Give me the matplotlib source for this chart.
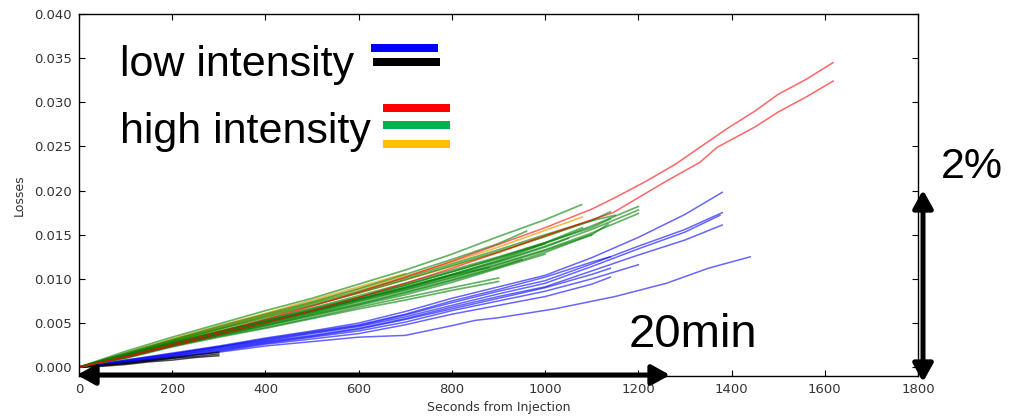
import matplotlib
matplotlib.use("Agg")
import matplotlib.pyplot as plt
from matplotlib.ticker import FormatStrFormatter
from matplotlib.patches import Rectangle

# ---------------- data ----------------
GRID = [0, 100, 200, 300, 400, 500, 600, 700, 800, 900, 1000, 1100, 1200, 1300]

# each entry: (values on GRID, optional extra end point (x, y))
blue_lines = [
    ([0, .0008, .0016, .0024, .0033, .0041, .0050, .0063, .0078, .0091, .0104, .0124, .0147, .0173], (1380, .0198)),
    ([0, .0007, .0015, .0023, .0031, .0039, .0047, .0059, .0073, .0086, .0098, .0117, .0137, .0156], (1380, .0175)),
    ([0, .0007, .0014, .0022, .0030, .0038, .0046, .0057, .0070, .0083, .0095, .0114, .0134, .0153], (1375, .0172)),
    ([0, .0006, .0013, .0021, .0029, .0036, .0044, .0055, .0068, .0080, .0091, .0109, .0127, .0144], (1380, .0161)),
    ([0, .0008, .0015, .0023, .0032, .0040, .0048, .0060, .0075, .0088, .0102, .0119], (1140, .0125)),
    ([0, .0006, .0012, .0019, .0027, .0034, .0041, .0051, .0064, .0075, .0086, .0100, .0116], None),
    ([0, .0005, .0011, .0018, .0026, .0032, .0038, .0048, .0060, .0070, .0080, .0094], (1140, .0102)),
    ([0, .0006, .0013, .0020, .0028, .0035, .0043, .0054, .0066, .0078, .0090, .0105], (1140, .0112)),
]
# lowest blue run (irregular sampling)
blue_low_x = [0, 100, 200, 300, 400, 500, 600, 650, 700, 800, 850, 900, 1020, 1150, 1260, 1350, 1440]
blue_low_y = [0, .0004, .0010, .0017, .0024, .0029, .0034, .0035, .0036, .0047, .0053, .0056, .0066, .0080, .0095, .0112, .0125]

black_x = [0, 50, 100, 150, 200, 250, 300]
black_lines = [
    [0, .0002, .0005, .0008, .0011, .0014, .0017],
    [0, .0002, .0004, .0007, .0010, .0012, .0015],
    [0, .0001, .0003, .0006, .0008, .0011, .0013],
]

green_lines = [
    ([0, .0018, .0034, .0049, .0064, .0078, .0094, .0110, .0128, .0148, .0167], (1078, .0184)),
    ([0, .0016, .0031, .0046, .0060, .0074, .0089, .0105, .0122, .0140], (960, .0154)),
    ([0, .0014, .0029, .0043, .0056, .0070, .0084, .0099, .0115, .0131, .0148, .0166], (1140, .0176)),
    ([0, .0014, .0028, .0041, .0054, .0067, .0081, .0095, .0110, .0125, .0141, .0158], (1140, .0168)),
    ([0, .0013, .0027, .0040, .0053, .0066, .0079, .0093, .0108, .0123, .0140, .0160, .0182], None),
    ([0, .0013, .0026, .0039, .0052, .0064, .0077, .0091, .0105, .0120, .0137, .0156, .0178], None),
    ([0, .0012, .0025, .0038, .0050, .0062, .0075, .0088, .0102, .0117, .0133, .0152, .0174], None),
    ([0, .0012, .0025, .0037, .0049, .0061, .0074, .0087, .0101, .0116, .0132, .0150], (1135, .0162)),
    ([0, .0013, .0027, .0040, .0052, .0065, .0079, .0093, .0108, .0124, .0141], (1080, .0158)),
    ([0, .0012, .0026, .0039, .0051, .0063, .0077, .0090, .0105, .0121, .0140], None),
    ([0, .0011, .0024, .0035, .0045, .0056, .0068, .0079, .0090, .0101], None),
    ([0, .0010, .0023, .0034, .0044, .0055, .0066, .0076, .0087, .0097], None),
    ([0, .0012, .0025, .0037, .0048, .0060, .0072, .0085, .0099, .0114], (950, .0122)),
    ([0, .0013, .0026, .0038, .0050, .0063, .0076, .0089, .0104, .0119, .0136], (1050, .0146)),
    ([0, .0011, .0024, .0036, .0047, .0059, .0071, .0084, .0098, .0113, .0130, .0150], None),
    ([0, .0014, .0028, .0040, .0052, .0064, .0077, .0090, .0104], (880, .0113)),
    ([0, .0011, .0024, .0036, .0047, .0058, .0070, .0082, .0096, .0112, .0128], None),
    ([0, .0015, .0030, .0044, .0058, .0072, .0086, .0101, .0117, .0133, .0150, .0166], (1150, .0172)),
]

orange_lines = [
    ([0, .0015, .0031, .0045, .0059, .0073, .0088, .0103, .0119, .0136, .0155], (1080, .0170)),
    ([0, .0014, .0029, .0043, .0057, .0070, .0084, .0099, .0114, .0130, .0148], (1075, .0162)),
    ([0, .0016, .0032, .0047, .0061, .0076, .0091, .0106], None),
]

red_upper_x = [0, 100, 200, 300, 400, 500, 600, 700, 800, 900, 1000, 1100, 1150, 1218, 1280, 1332, 1390, 1450, 1500, 1560, 1618]
red_upper_y = [0, .0012, .0026, .0040, .0054, .0069, .0085, .0102, .0120, .0139, .0158, .0179, .0192, .0211, .0230, .0249, .0270, .0290, .0309, .0326, .0345]
red_lower_x = [0, 100, 200, 300, 400, 500, 600, 700, 800, 900, 1000, 1100, 1146, 1200, 1261, 1332, 1369, 1450, 1500, 1560, 1618]
red_lower_y = [0, .0011, .0024, .0037, .0050, .0064, .0079, .0095, .0112, .0130, .0149, .0167, .0175, .0192, .0211, .0232, .0249, .0272, .0289, .0306, .0324]

x_ticks = [0, 200, 400, 600, 800, 1000, 1200, 1400, 1600, 1800]
y_ticks = [0.000, 0.005, 0.010, 0.015, 0.020, 0.025, 0.030, 0.035, 0.040]

# ---------------- figure ----------------
W, H = 1012, 418
fig = plt.figure(figsize=(W / 100, H / 100), dpi=100)
ax = fig.add_axes([79 / W, 1 - 376 / H, (918 - 79) / W, (376 - 14) / H])


def run(vals, end):
    xs = GRID[:len(vals)]
    ys = list(vals)
    if end is not None:
        xs = xs + [end[0]]
        ys = ys + [end[1]]
    return xs, ys


for vals, end in blue_lines:
    xs, ys = run(vals, end)
    ax.plot(xs, ys, color="#0000FF", lw=1.1, alpha=0.6)
ax.plot(blue_low_x, blue_low_y, color="#0000FF", lw=1.1, alpha=0.6)
for ys in black_lines:
    ax.plot(black_x, ys, color="black", lw=1.1, alpha=0.7)
for vals, end in orange_lines:
    xs, ys = run(vals, end)
    ax.plot(xs, ys, color="#E8A000", lw=1.2, alpha=0.7)
for vals, end in green_lines:
    xs, ys = run(vals, end)
    ax.plot(xs, ys, color="#008000", lw=1.25, alpha=0.6)
ax.plot(red_upper_x, red_upper_y, color="#FF0000", lw=1.1, alpha=0.6)
ax.plot(red_lower_x, red_lower_y, color="#FF0000", lw=1.1, alpha=0.6)

ax.set_xlim(0, 1800)
ax.set_ylim(-0.001, 0.040)
ax.set_xticks(x_ticks)
ax.set_yticks(y_ticks)
ax.yaxis.set_major_formatter(FormatStrFormatter("%.3f"))
ax.tick_params(direction="in", top=True, right=True, length=4, width=0.8,
               labelsize=9.5, labelcolor="#333333", pad=5)
for s in ax.spines.values():
    s.set_linewidth(1.0)
ax.set_xlabel("Seconds from Injection", fontsize=9, color="#333333", labelpad=4)
ax.set_ylabel("Losses", fontsize=9, color="#333333", labelpad=6)

# ---------------- overlay annotations ----------------
TXT = dict(family=["Liberation Sans", "DejaVu Sans"], color="black", va="baseline", ha="left")
fig.text(120 / W, 1 - 76 / H, "low intensity", fontsize=31, **TXT)
fig.text(120 / W, 1 - 143 / H, "high intensity", fontsize=31, **TXT)
fig.text(941 / W, 1 - 178 / H, "2%", fontsize=31, **TXT)
fig.text(629 / W, 1 - 347 / H, "20min", fontsize=34, **TXT)

bars = [
    (371, 44, 438, 52, "#0000FF"),
    (373, 58, 440, 66, "#000000"),
    (383, 104, 450, 112, "#FF0000"),
    (383, 121, 450, 129, "#00B050"),
    (383, 140, 450, 148, "#FFC000"),
]
for x0, y0, x1, y1, c in bars:
    fig.add_artist(Rectangle((x0 / W, 1 - y1 / H), (x1 - x0) / W, (y1 - y0) / H,
                             transform=fig.transFigure, color=c, lw=0))

arrow = dict(arrowstyle="<|-|>,head_length=0.9,head_width=0.5", color="black",
             lw=3.6, shrinkA=0, shrinkB=0, mutation_scale=12)
ax.annotate("", xy=(670, H - 375), xytext=(77, H - 375),
            xycoords="figure pixels", textcoords="figure pixels",
            arrowprops=arrow, annotation_clip=False)
ax.annotate("", xy=(923, H - 190), xytext=(923, H - 382),
            xycoords="figure pixels", textcoords="figure pixels",
            arrowprops=arrow, annotation_clip=False)

fig.savefig("out.png", dpi=100)
